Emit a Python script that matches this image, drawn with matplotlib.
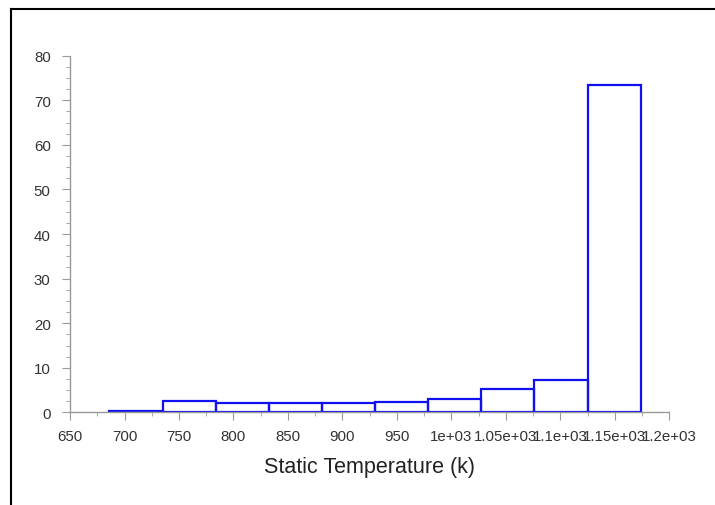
import numpy as np
import matplotlib.pyplot as plt
from matplotlib.lines import Line2D
from matplotlib.ticker import MultipleLocator

# histogram data (bin edges and percentage per bin)
bin_edges = [686, 735, 784, 833, 881, 930, 979, 1027, 1076, 1125, 1174]
counts = [0.3, 2.5, 2.1, 2.0, 2.2, 2.4, 2.9, 5.2, 7.2, 73.5]
xtick_vals = [650, 700, 750, 800, 850, 900, 950, 1000, 1050, 1100, 1150, 1200]
xtick_labels = ["650", "700", "750", "800", "850", "900", "950",
                "1e+03", "1.05e+03", "1.1e+03", "1.15e+03", "1.2e+03"]

plt.rcParams['font.family'] = ['Liberation Sans', 'DejaVu Sans']

fig = plt.figure(figsize=(7.15, 5.06), dpi=100)
ax = fig.add_axes([0.098, 0.183, 0.838, 0.705])

edges = np.array(bin_edges)
ax.bar(edges[:-1], counts, width=np.diff(edges), align='edge',
       fill=False, edgecolor='#1010f0', linewidth=1.6)

ax.set_xlim(650, 1200)
ax.set_ylim(0, 80)
ax.set_xticks(xtick_vals)
ax.set_xticklabels(xtick_labels)
ax.xaxis.set_minor_locator(MultipleLocator(25))
ax.yaxis.set_major_locator(MultipleLocator(10))
ax.yaxis.set_minor_locator(MultipleLocator(2.5))

for s in ['top', 'right']:
    ax.spines[s].set_visible(False)
for s in ['left', 'bottom']:
    ax.spines[s].set_color('#999999')
    ax.spines[s].set_linewidth(1.0)

ax.tick_params(which='major', length=6, color='#999999', labelsize=10.8,
               labelcolor='#333333')
ax.tick_params(axis='y', which='major', pad=8)
ax.tick_params(axis='x', which='major', pad=6)
ax.tick_params(which='minor', length=3, color='#999999')

ax.set_xlabel('Static Temperature (k)', fontsize=15.5, color='#222222',
              labelpad=9)

# outer frame lines (left and top)
fig.add_artist(Line2D([11.5 / 715, 11.5 / 715], [0, 1 - 10 / 506],
                      transform=fig.transFigure, color='black', linewidth=1.5))
fig.add_artist(Line2D([11.5 / 715, 1], [1 - 10 / 506, 1 - 10 / 506],
                      transform=fig.transFigure, color='black', linewidth=1.5))

fig.savefig('out.png', dpi=100)
